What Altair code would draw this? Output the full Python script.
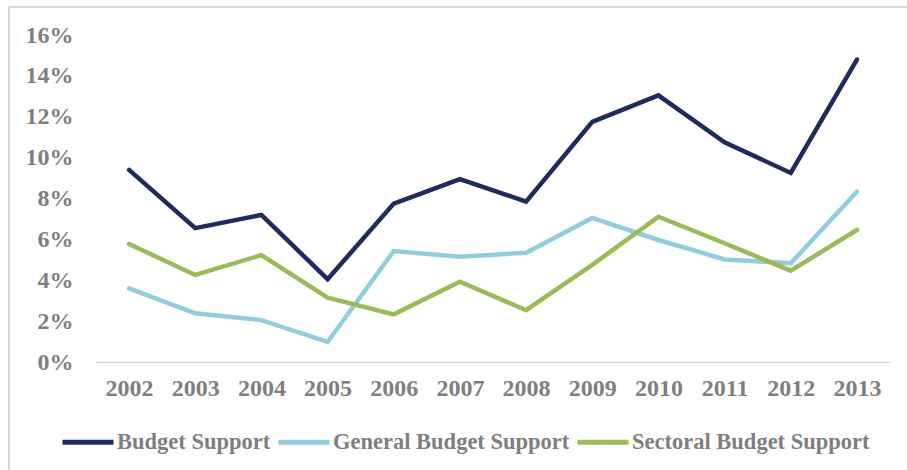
import altair as alt
import pandas as pd

years = ["2002", "2003", "2004", "2005", "2006", "2007", "2008", "2009", "2010", "2011", "2012", "2013"]
budget_support = [9.4, 6.55, 7.2, 4.05, 7.75, 8.95, 7.85, 11.75, 13.05, 10.75, 9.25, 14.8]
general_budget_support = [3.6, 2.38, 2.05, 0.98, 5.43, 5.15, 5.35, 7.05, 5.97, 5.02, 4.83, 8.33]
sectoral_budget_support = [5.77, 4.26, 5.23, 3.15, 2.33, 3.93, 2.54, 4.75, 7.11, 5.81, 4.47, 6.46]

series_names = ["Budget Support", "General Budget Support", "Sectoral Budget Support"]
series_colors = ["#1F2A5E", "#92CDDD", "#9BBB59"]
y_ticks = [0, 0.02, 0.04, 0.06, 0.08, 0.10, 0.12, 0.14, 0.16]

rows = []
for name, vals in zip(series_names, [budget_support, general_budget_support, sectoral_budget_support]):
    for yr, v in zip(years, vals):
        rows.append({"Year": yr, "Series": name, "Value": v / 100.0})
df = pd.DataFrame(rows)

FONT = "Liberation Serif"
GRAY = "#7F7F7F"

lines = alt.Chart(df).mark_line(strokeWidth=4.5, strokeCap="round", strokeJoin="miter").encode(
    x=alt.X("Year:O", sort=years,
            scale=alt.Scale(type="point", padding=0.5),
            axis=alt.Axis(title=None, labelAngle=0, ticks=False, domain=True,
                          domainColor="#D9D9D9", domainWidth=1.5,
                          labelFont=FONT, labelFontSize=24, labelFontWeight="bold",
                          labelColor=GRAY, labelPadding=14)),
    y=alt.Y("Value:Q",
            scale=alt.Scale(domain=[0, 0.16], nice=False, zero=True),
            axis=alt.Axis(title=None, values=y_ticks, format=".0%", grid=False,
                          ticks=False, domain=False,
                          labelFont=FONT, labelFontSize=24, labelFontWeight="bold",
                          labelColor=GRAY, labelPadding=23)),
    color=alt.Color("Series:N",
                    scale=alt.Scale(domain=series_names, range=series_colors),
                    legend=alt.Legend(title=None, orient="none", direction="horizontal",
                                      legendX=-36, legendY=379,
                                      symbolType="stroke", symbolSize=2601,
                                      symbolStrokeWidth=5, labelOffset=1,
                                      columnPadding=-3, labelLimit=500,
                                      labelFont=FONT, labelFontSize=22.5,
                                      labelFontWeight="bold", labelColor=GRAY)),
    order=alt.Order("Year:O"),
)

frame_top = alt.Chart(pd.DataFrame({"k": [0]})).mark_rule(color="#D9D9D9", strokeWidth=2).encode(
    x=alt.value(-87), x2=alt.value(830), y=alt.value(-28))
frame_left = alt.Chart(pd.DataFrame({"k": [0]})).mark_rule(color="#D9D9D9", strokeWidth=2).encode(
    x=alt.value(-87), y=alt.value(-28), y2=alt.value(460))

chart = alt.layer(frame_top, frame_left, lines).properties(
    width=794, height=327,
    padding={"left": 96, "top": 35, "right": 17, "bottom": 108},
    autosize=alt.AutoSizeParams(type="none"),
    background="white",
).configure_view(stroke=None)

chart.save("out.html", embed_options={"renderer": "svg", "actions": False})
